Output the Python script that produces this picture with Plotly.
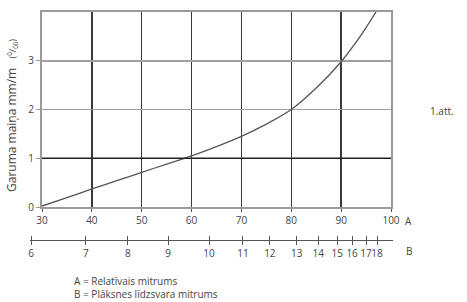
import plotly.graph_objects as go

# Data
rel_humidity = [30, 35, 40, 45, 50, 55, 60, 65, 70, 75, 80, 85, 90, 93, 95, 97]
length_change = [0.02, 0.19, 0.37, 0.54, 0.71, 0.88, 1.05, 1.24, 1.45, 1.70, 2.00, 2.44, 2.98, 3.38, 3.68, 4.00]

a_ticks = [30, 40, 50, 60, 70, 80, 90, 100]
y_ticks = [0, 1, 2, 3]
# B scale (equilibrium moisture) expressed at the A positions where its ticks fall
b_labels = ["6", "7", "8", "9", "10", "11", "12", "13", "14", "15", "16", "17", "18"]
b_at_a = [27.8, 38.8, 47.2, 55.3, 63.5, 70.3, 75.7, 81.1, 85.4, 89.2, 92.2, 95.0, 97.2]

W, H = 467, 302
ML, MR, MT, MB = 30, 74, 12, 62
PW = W - ML - MR
PH = H - MT - MB


def px_x(p):
    return (p - ML) / PW


def px_y(p):
    return (H - MB - p) / PH


# main plot pixel box (window pixels)
px_left, px_right = 42, 391
py_bottom = 207
dom_x = [px_x(px_left), px_x(px_right)]
dom_y = [px_y(py_bottom), 1]
scale = (px_right - px_left) / 70.0
x2_range = [30 - (px_left - ML) / scale, 100 + (ML + PW - px_right) / scale]
b_line_y = 240
b_dom = [0, px_y(b_line_y) * 2]

FONT = "Open Sans"
TXT = "#444"

fig = go.Figure()
fig.add_trace(go.Scatter(
    x=rel_humidity, y=length_change, mode="lines",
    line=dict(color="#555", width=1.3, shape="spline", smoothing=0.6),
    showlegend=False, hoverinfo="skip",
))
# invisible traces on B axes so they render
for xa in ("x2", "x3"):
    fig.add_trace(go.Scatter(x=[b_at_a[0]], y=[0], xaxis=xa, yaxis="y2",
                             mode="markers", marker=dict(opacity=0),
                             showlegend=False, hoverinfo="skip"))

fig.add_hline(y=1, line=dict(color="#222", width=1.5), layer="above")

fig.update_layout(
    width=W, height=H,
    margin=dict(l=ML, r=MR, t=MT, b=MB, autoexpand=False),
    paper_bgcolor="white", plot_bgcolor="rgba(0,0,0,0)",
    font=dict(family=FONT, size=10, color=TXT),
    hovermode=False,
    xaxis=dict(
        domain=dom_x, range=[30, 100], tickvals=a_ticks, tickangle=0,
        showgrid=True, gridcolor="#3a3a3a", gridwidth=1.5,
        showline=True, linecolor="#9a9a9a", linewidth=2, mirror=True,
        ticks="outside", ticklen=3, tickcolor="#555",
        zeroline=False, fixedrange=True, anchor="y", automargin=False,
    ),
    yaxis=dict(
        domain=dom_y, range=[0, 4], tickvals=y_ticks,
        showgrid=True, gridcolor="#a0a0a0", gridwidth=1.5,
        showline=True, linecolor="#9a9a9a", linewidth=2, mirror=True,
        ticks="outside", ticklen=4, tickcolor="#999",
        zeroline=False, fixedrange=True, anchor="x", automargin=False,
    ),
    yaxis2=dict(
        domain=b_dom, range=[-1, 1], visible=False, fixedrange=True, anchor="x2",
    ),
    xaxis2=dict(
        domain=[0, 1], range=x2_range, anchor="y2",
        tickvals=b_at_a, ticktext=b_labels, tickangle=0,
        showgrid=False, zeroline=False,
        showline=True, linecolor="#555", linewidth=1,
        ticks="outside", ticklen=4, tickcolor="#555", tickwidth=1,
        fixedrange=True, automargin=False,
    ),
    xaxis3=dict(
        domain=[0, 1], range=x2_range, anchor="y2",
        overlaying="x2",
        tickvals=b_at_a, showticklabels=False, side="bottom",
        showgrid=False, zeroline=False, showline=False,
        ticks="inside", ticklen=4, tickcolor="#555", tickwidth=1,
        fixedrange=True, automargin=False,
    ),
    annotations=[
        dict(text="A", xref="paper", yref="paper", x=px_x(408), y=px_y(221),
             showarrow=False, xanchor="center", yanchor="middle"),
        dict(text="B", xref="paper", yref="paper", x=px_x(409), y=px_y(251),
             showarrow=False, xanchor="center", yanchor="middle"),
        dict(text="1.att.", xref="paper", yref="paper", x=px_x(442), y=px_y(111),
             showarrow=False, xanchor="center", yanchor="middle"),
        dict(text="A = Relatīvais mitrums", xref="paper", yref="paper",
             x=px_x(72), y=px_y(281), showarrow=False, xanchor="left", yanchor="middle"),
        dict(text="B = Plāksnes līdzsvara mitrums", xref="paper", yref="paper",
             x=px_x(72), y=px_y(294), showarrow=False, xanchor="left", yanchor="middle"),
        dict(text="Garuma maiņa mm/m &nbsp;&nbsp;<span style='font-size:9px'>(<sup>0</sup>/<sub>00</sub>)</span>",
             xref="paper", yref="paper", x=px_x(11), y=px_y(116),
             textangle=-90, showarrow=False, xanchor="center", yanchor="middle",
             font=dict(size=12, color=TXT)),
    ],
)

fig.write_html("out.html", config={"displayModeBar": False, "staticPlot": True},
               post_script="document.body.style.margin='0';")
